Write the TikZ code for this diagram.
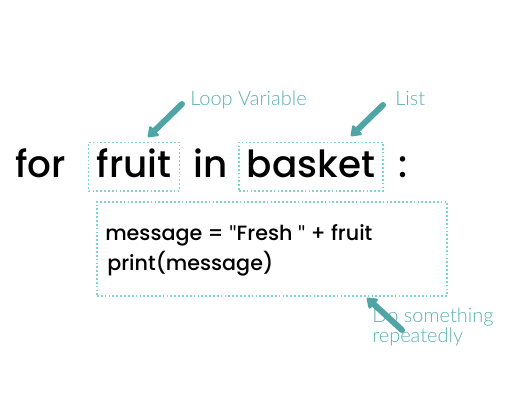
\documentclass[tikz,border=0pt]{standalone}
\usepackage{fontspec}
\setmainfont{Poppins Medium}
\newfontfamily\notefont{Lato Light}
\newfontfamily\quotefont{Lato}
\usetikzlibrary{arrows.meta, positioning}
\definecolor{arrowteal}{HTML}{4FA5A5}
\definecolor{noteteal}{HTML}{5BB0B0}
\definecolor{boxteal}{HTML}{7FD3D3}
\newcommand\dq{{\quotefont\char34}}

\begin{document}
\begin{tikzpicture}[
    x=0.75pt, y=-0.75pt,
    word/.style={anchor=base, inner sep=0pt, font=\fontsize{28}{32}\selectfont},
    dotbox/.style={word, draw=boxteal, line width=1.2pt, dash pattern=on 1.3pt off 1.6pt,
      inner xsep=6pt, text height=26pt, text depth=10.5pt},
    codebox/.style={draw=boxteal, line width=1.2pt, dash pattern=on 1.3pt off 1.6pt,
      minimum width=262.5pt, minimum height=70.5pt, inner sep=0pt},
    code/.style={anchor=base west, inner sep=0pt, font=\fontsize{15.5}{20}\selectfont},
    note/.style={anchor=base west, inner sep=0pt, text=noteteal, align=left,
      font=\notefont\fontsize{15}{12.8}\selectfont},
    pointer/.style={draw=arrowteal, line width=4.5pt, line cap=round,
      -{Triangle[round, length=8pt, width=11pt]}}
  ]
  \useasboundingbox (0,0) rectangle (528,408);

  % header line of the loop
  \node[word, anchor=base west] (for) at (15,177) {for};
  \node[dotbox] (fruit) at (134,177) {fruit};
  \node[word] (in) at (211,177) {in};
  \node[dotbox] (basket) at (311,177) {basket};
  \node[word] (colon) at (403,177) {:};

  % loop body
  \node[codebox] (body) at (272,249) {};
  \node[code] (line1) at (105,240) {message = \dq Fresh \dq\ + fruit};
  \node[code] (line2) at (107,270) {print(message)};

  % notes
  \node[note] (loopvar) at (190,105) {Loop Variable};
  \node[note] (list) at (395,105) {List};
  \node[note] (repeat) at (372,342) {Do something\\repeatedly};

  \coordinate (loopvar tail) at (182,104);
  \coordinate (loopvar tip) at (148,137);
  \coordinate (list tail) at (383,105);
  \coordinate (list tip) at (351,136);
  \coordinate (repeat tail) at (402,330);
  \coordinate (repeat tip) at (367,298);

  \draw[pointer] (loopvar tail) -- (loopvar tip);
  \draw[pointer] (list tail) -- (list tip);
  \draw[pointer] (repeat tail) -- (repeat tip);

\end{tikzpicture}
\end{document}
